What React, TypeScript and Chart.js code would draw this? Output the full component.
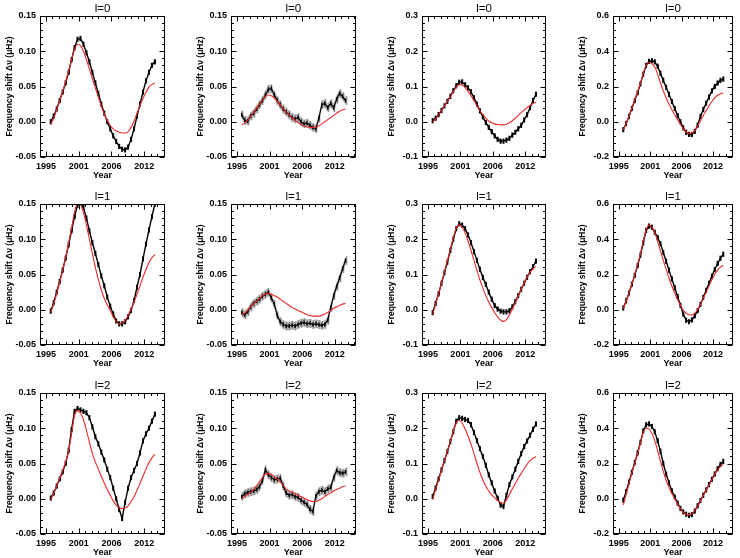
import React, { useEffect, useRef } from 'react';
import { Chart, registerables } from 'chart.js';

Chart.register(...registerables);

const FONT = "'Liberation Sans', Arial, Helvetica, sans-serif";
const RED = '#ee2a2a';

// observation epochs (years)
const years = [
  1996.3, 1996.8, 1997.3, 1997.8, 1998.3, 1998.8, 1999.3, 1999.8, 2000.3, 2000.8,
  2001.3, 2001.8, 2002.3, 2002.8, 2003.3, 2003.8, 2004.3, 2004.8, 2005.3, 2005.8,
  2006.3, 2006.8, 2007.3, 2007.8, 2008.3, 2008.8, 2009.3, 2009.8, 2010.3, 2010.8,
  2011.3, 2011.8, 2012.3, 2012.8, 2013.3, 2013.8,
];

const xTickYears = [1995.5, 2001, 2006.5, 2012];
const xTickLabels = ['1995', '2001', '2006', '2012'];
const degreeLabels = ['l=0', 'l=1', 'l=2'];

// y-axis range per column
const yMins = [-0.05, -0.05, -0.1, -0.2];
const yMaxs = [0.15, 0.15, 0.3, 0.6];
const ySteps = [0.05, 0.05, 0.1, 0.2];
const yDecimals = [2, 2, 1, 1];
const errorHalf = [0.002, 0.006, 0.004, 0.008];

// ---- l = 0 ----
const obsL0a = [0.000, 0.008, 0.018, 0.030, 0.042, 0.055, 0.070, 0.088, 0.105, 0.117, 0.118, 0.110, 0.098, 0.085, 0.070, 0.055, 0.040, 0.025, 0.012, 0.000, -0.010, -0.020, -0.028, -0.035, -0.039, -0.040, -0.036, -0.025, -0.010, 0.008, 0.025, 0.042, 0.058, 0.070, 0.080, 0.085];
const modL0a = [-0.004, 0.005, 0.017, 0.030, 0.043, 0.057, 0.072, 0.088, 0.102, 0.110, 0.108, 0.100, 0.088, 0.075, 0.061, 0.048, 0.035, 0.022, 0.011, 0.002, -0.005, -0.010, -0.013, -0.015, -0.016, -0.016, -0.014, -0.008, 0.001, 0.012, 0.023, 0.033, 0.042, 0.049, 0.053, 0.055];
const obsL0b = [0.010, 0.002, 0.001, 0.008, 0.012, 0.018, 0.024, 0.030, 0.038, 0.046, 0.047, 0.038, 0.030, 0.024, 0.018, 0.014, 0.010, 0.006, 0.004, 0.006, 0.000, -0.003, -0.002, -0.005, -0.008, -0.010, 0.005, 0.024, 0.026, 0.020, 0.026, 0.020, 0.032, 0.040, 0.036, 0.030];
const modL0b = [-0.004, -0.002, 0.002, 0.008, 0.013, 0.019, 0.025, 0.031, 0.036, 0.038, 0.037, 0.034, 0.029, 0.024, 0.019, 0.014, 0.010, 0.006, 0.002, -0.001, -0.004, -0.006, -0.007, -0.008, -0.008, -0.008, -0.006, -0.003, 0.000, 0.003, 0.006, 0.009, 0.012, 0.015, 0.017, 0.018];
const obsL0c = [0.003, 0.010, 0.020, 0.032, 0.045, 0.058, 0.072, 0.088, 0.102, 0.112, 0.113, 0.105, 0.096, 0.085, 0.068, 0.050, 0.031, 0.014, -0.002, -0.016, -0.028, -0.040, -0.050, -0.055, -0.055, -0.052, -0.047, -0.038, -0.030, -0.020, -0.010, 0.005, 0.020, 0.040, 0.060, 0.078];
const modL0c = [-0.001, 0.008, 0.019, 0.032, 0.045, 0.058, 0.071, 0.085, 0.098, 0.105, 0.104, 0.097, 0.086, 0.074, 0.060, 0.046, 0.032, 0.020, 0.010, 0.002, -0.003, -0.006, -0.008, -0.009, -0.009, -0.007, -0.003, 0.003, 0.010, 0.018, 0.026, 0.033, 0.040, 0.046, 0.052, 0.056];
const obsL0d = [-0.045, -0.010, 0.030, 0.075, 0.120, 0.165, 0.215, 0.270, 0.320, 0.342, 0.346, 0.340, 0.315, 0.275, 0.235, 0.195, 0.155, 0.115, 0.075, 0.035, 0.000, -0.035, -0.060, -0.072, -0.072, -0.055, -0.020, 0.030, 0.070, 0.105, 0.140, 0.175, 0.200, 0.220, 0.235, 0.242];
const modL0d = [-0.045, -0.010, 0.032, 0.078, 0.124, 0.170, 0.220, 0.275, 0.320, 0.335, 0.330, 0.310, 0.270, 0.220, 0.175, 0.135, 0.100, 0.068, 0.040, 0.012, -0.015, -0.040, -0.058, -0.066, -0.064, -0.050, -0.025, 0.005, 0.035, 0.062, 0.090, 0.115, 0.135, 0.150, 0.158, 0.163];

// ---- l = 1 ----
const obsL1a = [-0.002, 0.010, 0.025, 0.040, 0.056, 0.073, 0.092, 0.112, 0.132, 0.148, 0.152, 0.145, 0.130, 0.112, 0.095, 0.080, 0.064, 0.048, 0.034, 0.018, 0.005, -0.006, -0.016, -0.020, -0.020, -0.017, -0.010, -0.001, 0.013, 0.032, 0.050, 0.072, 0.093, 0.113, 0.132, 0.150];
const modL1a = [-0.004, 0.008, 0.023, 0.039, 0.056, 0.074, 0.094, 0.116, 0.138, 0.151, 0.149, 0.138, 0.120, 0.100, 0.080, 0.060, 0.043, 0.028, 0.016, 0.007, -0.001, -0.010, -0.017, -0.020, -0.019, -0.015, -0.008, 0.001, 0.011, 0.022, 0.034, 0.046, 0.057, 0.067, 0.074, 0.078];
const obsL1b = [-0.004, -0.007, -0.003, 0.004, 0.009, 0.012, 0.015, 0.019, 0.022, 0.025, 0.017, 0.008, -0.008, -0.017, -0.021, -0.023, -0.023, -0.022, -0.023, -0.021, -0.019, -0.018, -0.020, -0.019, -0.021, -0.020, -0.021, -0.022, -0.021, -0.015, 0.003, 0.020, 0.033, 0.045, 0.058, 0.070];
const modL1b = [-0.006, -0.005, -0.001, 0.004, 0.008, 0.012, 0.016, 0.020, 0.022, 0.023, 0.022, 0.020, 0.018, 0.015, 0.012, 0.009, 0.006, 0.003, 0.001, -0.001, -0.003, -0.005, -0.007, -0.008, -0.009, -0.009, -0.009, -0.008, -0.006, -0.004, -0.001, 0.002, 0.004, 0.006, 0.008, 0.009];
const obsL1c = [-0.008, 0.018, 0.045, 0.075, 0.105, 0.135, 0.168, 0.200, 0.230, 0.244, 0.240, 0.230, 0.212, 0.190, 0.165, 0.140, 0.115, 0.092, 0.072, 0.050, 0.030, 0.012, 0.002, -0.004, -0.006, -0.006, -0.003, 0.008, 0.023, 0.040, 0.058, 0.075, 0.092, 0.108, 0.122, 0.138];
const modL1c = [-0.012, 0.015, 0.045, 0.076, 0.108, 0.140, 0.172, 0.205, 0.232, 0.240, 0.234, 0.218, 0.195, 0.168, 0.140, 0.112, 0.085, 0.062, 0.040, 0.022, 0.006, -0.008, -0.020, -0.029, -0.033, -0.028, -0.015, 0.002, 0.020, 0.040, 0.058, 0.076, 0.092, 0.106, 0.116, 0.123];
const obsL1d = [0.010, 0.050, 0.095, 0.145, 0.195, 0.250, 0.310, 0.380, 0.450, 0.475, 0.468, 0.440, 0.410, 0.375, 0.325, 0.275, 0.225, 0.175, 0.125, 0.075, 0.025, -0.025, -0.060, -0.068, -0.058, -0.035, -0.005, 0.030, 0.070, 0.110, 0.150, 0.190, 0.228, 0.262, 0.292, 0.315];
const modL1d = [0.008, 0.048, 0.095, 0.145, 0.198, 0.255, 0.318, 0.390, 0.455, 0.480, 0.470, 0.440, 0.390, 0.335, 0.280, 0.230, 0.180, 0.135, 0.095, 0.058, 0.025, -0.003, -0.020, -0.028, -0.030, -0.020, 0.000, 0.030, 0.065, 0.100, 0.135, 0.170, 0.200, 0.225, 0.242, 0.253];

// ---- l = 2 ----
const obsL2a = [0.001, 0.008, 0.018, 0.028, 0.038, 0.050, 0.068, 0.098, 0.124, 0.128, 0.126, 0.124, 0.122, 0.115, 0.102, 0.088, 0.078, 0.066, 0.055, 0.042, 0.030, 0.015, 0.000, -0.015, -0.028, -0.005, 0.015, 0.030, 0.040, 0.050, 0.065, 0.082, 0.092, 0.100, 0.110, 0.120];
const modL2a = [-0.002, 0.008, 0.018, 0.029, 0.040, 0.052, 0.068, 0.092, 0.118, 0.125, 0.122, 0.112, 0.097, 0.080, 0.064, 0.052, 0.042, 0.032, 0.022, 0.013, 0.005, -0.003, -0.009, -0.013, -0.014, -0.013, -0.010, -0.004, 0.003, 0.012, 0.022, 0.032, 0.042, 0.051, 0.058, 0.063];
const obsL2b = [0.003, 0.007, 0.009, 0.010, 0.011, 0.013, 0.017, 0.026, 0.041, 0.034, 0.030, 0.027, 0.028, 0.029, 0.018, 0.008, 0.005, 0.006, 0.003, 0.002, -0.002, -0.005, -0.008, -0.015, -0.018, 0.004, 0.010, 0.012, 0.010, 0.014, 0.016, 0.030, 0.040, 0.037, 0.036, 0.038];
const modL2b = [0.000, 0.003, 0.006, 0.009, 0.013, 0.018, 0.024, 0.030, 0.035, 0.036, 0.034, 0.031, 0.028, 0.024, 0.019, 0.014, 0.011, 0.009, 0.007, 0.005, 0.003, 0.001, -0.001, -0.003, -0.004, -0.004, -0.002, 0.000, 0.003, 0.006, 0.008, 0.011, 0.013, 0.015, 0.017, 0.018];
const obsL2c = [0.006, 0.030, 0.056, 0.082, 0.108, 0.134, 0.162, 0.190, 0.220, 0.230, 0.228, 0.225, 0.222, 0.210, 0.188, 0.165, 0.142, 0.120, 0.095, 0.068, 0.045, 0.022, 0.002, -0.018, -0.022, 0.010, 0.040, 0.062, 0.084, 0.106, 0.128, 0.148, 0.164, 0.180, 0.197, 0.212];
const modL2c = [-0.002, 0.025, 0.052, 0.080, 0.108, 0.135, 0.163, 0.192, 0.215, 0.222, 0.215, 0.198, 0.178, 0.155, 0.128, 0.100, 0.075, 0.054, 0.036, 0.022, 0.011, 0.003, -0.005, -0.011, -0.012, -0.004, 0.012, 0.028, 0.043, 0.058, 0.072, 0.085, 0.098, 0.108, 0.115, 0.119];
const obsL2d = [-0.008, 0.040, 0.095, 0.150, 0.205, 0.260, 0.320, 0.385, 0.420, 0.425, 0.410, 0.380, 0.330, 0.270, 0.200, 0.140, 0.090, 0.045, 0.010, -0.025, -0.055, -0.075, -0.088, -0.094, -0.090, -0.070, -0.040, -0.010, 0.020, 0.050, 0.080, 0.110, 0.140, 0.170, 0.195, 0.212];
const modL2d = [-0.035, 0.025, 0.085, 0.145, 0.200, 0.255, 0.315, 0.375, 0.400, 0.395, 0.370, 0.330, 0.275, 0.215, 0.155, 0.105, 0.065, 0.030, 0.000, -0.030, -0.058, -0.078, -0.088, -0.090, -0.085, -0.068, -0.042, -0.012, 0.018, 0.048, 0.078, 0.108, 0.138, 0.162, 0.182, 0.195];

const observedRows = [
  [obsL0a, obsL0b, obsL0c, obsL0d],
  [obsL1a, obsL1b, obsL1c, obsL1d],
  [obsL2a, obsL2b, obsL2c, obsL2d],
];
const modelRows = [
  [modL0a, modL0b, modL0c, modL0d],
  [modL1a, modL1b, modL1c, modL1d],
  [modL2a, modL2b, modL2c, modL2d],
];

// panel geometry (plot area in page pixels)
const plotLefts = [40, 231, 422, 613];
const plotWidths = [126, 125, 125, 121];
const plotTops = [16, 204, 393];
const plotHeight = 141;
const AXIS_W = 40;
const AXIS_H = 24;
const PAD_TOP = 16;
const PAD_RIGHT = 5;

// uncertainty band and vertical error bars under the observed series
const errorBars = {
  id: 'errorBars',
  beforeDatasetsDraw(chart: any, _a: any, opts: any) {
    const { ctx, chartArea: a, scales } = chart;
    const meta = chart.getDatasetMeta(1);
    const data = chart.data.datasets[1].data as any[];
    const ys = scales.y;
    ctx.save();
    ctx.beginPath();
    ctx.rect(a.left, a.top, a.right - a.left, a.bottom - a.top);
    ctx.clip();
    if (opts.band) {
      ctx.beginPath();
      meta.data.forEach((pt: any, i: number) => {
        const py = ys.getPixelForValue(data[i].y + opts.size);
        if (i === 0) ctx.moveTo(pt.x, py);
        else ctx.lineTo(pt.x, py);
      });
      for (let i = meta.data.length - 1; i >= 0; i--) {
        ctx.lineTo(meta.data[i].x, ys.getPixelForValue(data[i].y - opts.size));
      }
      ctx.closePath();
      ctx.fillStyle = opts.band;
      ctx.fill();
    }
    ctx.strokeStyle = opts.color;
    ctx.lineWidth = opts.width;
    meta.data.forEach((pt: any, i: number) => {
      const v = data[i].y;
      const x = Math.round(pt.x) + 0.5;
      ctx.beginPath();
      ctx.moveTo(x, ys.getPixelForValue(v + opts.size));
      ctx.lineTo(x, ys.getPixelForValue(v - opts.size));
      ctx.stroke();
    });
    ctx.restore();
  },
};

// boxed frame with inward major/minor ticks on all four sides, plus the panel title
const panelFrame = {
  id: 'panelFrame',
  afterDraw(chart: any, _a: any, opts: any) {
    const { ctx, chartArea: a, scales } = chart;
    const xs = scales.x;
    const ys = scales.y;
    ctx.save();
    ctx.strokeStyle = '#000';
    ctx.lineWidth = 1;
    const l = Math.round(a.left) + 0.5;
    const r = Math.round(a.right) - 0.5;
    const t = Math.round(a.top) + 0.5;
    const b = Math.round(a.bottom) - 0.5;
    ctx.strokeRect(l, t, r - l, b - t);
    ctx.beginPath();
    const xStep = (xTickYears[1] - xTickYears[0]) / 5;
    for (let k = -10; k <= 40; k++) {
      const v = xTickYears[0] + k * xStep;
      if (v < xs.min || v > xs.max) continue;
      const len = k % 5 === 0 ? 5 : 2.5;
      const px = Math.round(xs.getPixelForValue(v)) + 0.5;
      ctx.moveTo(px, b); ctx.lineTo(px, b - len);
      ctx.moveTo(px, t); ctx.lineTo(px, t + len);
    }
    const yStep = opts.yStep / 5;
    const n = Math.round((ys.max - ys.min) / yStep);
    for (let k = 0; k <= n; k++) {
      const v = ys.min + k * yStep;
      const len = k % 5 === 0 ? 5 : 2.5;
      const py = Math.round(ys.getPixelForValue(v)) + 0.5;
      ctx.moveTo(l, py); ctx.lineTo(l + len, py);
      ctx.moveTo(r, py); ctx.lineTo(r - len, py);
    }
    ctx.stroke();
    ctx.fillStyle = '#000';
    ctx.font = `11.5px ${FONT}`;
    ctx.textAlign = 'center';
    ctx.textBaseline = 'alphabetic';
    ctx.fillText(opts.title, (a.left + a.right) / 2, a.top - 4.5);
    ctx.restore();
  },
};

function Panel({ row, col }: { row: number; col: number }) {
  const ref = useRef<HTMLCanvasElement>(null);
  const width = AXIS_W + plotWidths[col] + PAD_RIGHT;
  const height = PAD_TOP + plotHeight + AXIS_H;

  useEffect(() => {
    const obs = observedRows[row][col];
    const mod = modelRows[row][col];
    const noisy = col === 1;
    const tickFont = { family: FONT, size: 9, weight: 'bold' as const };
    const chart = new Chart(ref.current as HTMLCanvasElement, {
      type: 'line',
      data: {
        datasets: [
          {
            label: 'model',
            data: years.map((x, i) => ({ x, y: mod[i] })),
            borderColor: RED,
            borderWidth: 1.1,
            pointRadius: 0,
            cubicInterpolationMode: 'monotone',
          },
          {
            label: 'observed',
            data: years.map((x, i) => ({ x, y: obs[i] })),
            borderColor: '#000',
            borderWidth: noisy ? 1.2 : 1.4,
            pointStyle: 'line',
            rotation: 90,
            pointRadius: noisy ? 2 : 2.6,
            pointBorderWidth: noisy ? 1.4 : 2,
            pointBorderColor: '#000',
            pointBackgroundColor: '#000',
          },
        ],
      },
      plugins: [errorBars, panelFrame],
      options: {
        responsive: false,
        animation: false,
        devicePixelRatio: 1,
        events: [],
        layout: { padding: { top: PAD_TOP, right: PAD_RIGHT, left: 0, bottom: 0 } },
        plugins: {
          legend: { display: false },
          tooltip: { enabled: false },
          title: { display: false },
          errorBars: {
            size: errorHalf[col],
            color: noisy ? '#8a8a8a' : '#444',
            width: noisy ? 1.5 : 1,
            band: noisy ? 'rgba(150,150,150,0.55)' : null,
          },
          panelFrame: { title: degreeLabels[row], yStep: ySteps[col] },
        } as any,
        scales: {
          x: {
            type: 'linear',
            min: 1994.5,
            max: 2015.5,
            grid: { display: false, drawTicks: false },
            border: { display: false },
            afterBuildTicks: (s: any) => {
              s.ticks = xTickYears.map((v) => ({ value: v }));
            },
            afterFit: (s: any) => {
              s.height = AXIS_H;
              s.paddingLeft = 0;
              s.paddingRight = 0;
            },
            ticks: {
              autoSkip: false,
              maxRotation: 0,
              minRotation: 0,
              padding: 4,
              color: '#000',
              font: tickFont,
              callback: (_v: any, i: number) => xTickLabels[i],
            },
            title: {
              display: true,
              text: 'Year',
              color: '#000',
              font: { family: FONT, size: 9, weight: 'bold' },
              padding: 0,
            },
          },
          y: {
            min: yMins[col],
            max: yMaxs[col],
            grid: { display: false, drawTicks: false },
            border: { display: false },
            afterFit: (s: any) => {
              s.width = AXIS_W;
              s.paddingTop = 0;
              s.paddingBottom = 0;
            },
            ticks: {
              stepSize: ySteps[col],
              padding: 4,
              color: '#000',
              font: tickFont,
              callback: (v: any) => Number(v).toFixed(yDecimals[col]),
            },
            title: {
              display: true,
              text: 'Frequency shift Δν (μHz)',
              color: '#000',
              font: { family: FONT, size: 8.5, weight: 'bold' },
              padding: { top: 5, bottom: 0 },
            },
          },
        },
      } as any,
    });
    return () => chart.destroy();
  }, [row, col]);

  return (
    <canvas
      ref={ref}
      width={width}
      height={height}
      style={{
        position: 'absolute',
        left: plotLefts[col] - AXIS_W,
        top: plotTops[row] - PAD_TOP,
        width,
        height,
      }}
    />
  );
}

export default function App() {
  const cells: React.ReactNode[] = [];
  for (let r = 0; r < 3; r++) {
    for (let c = 0; c < 4; c++) {
      cells.push(<Panel key={`${r}-${c}`} row={r} col={c} />);
    }
  }
  return (
    <div
      style={{
        position: 'absolute',
        left: 0,
        top: 0,
        width: 740,
        height: 558,
        background: '#fff',
        overflow: 'hidden',
      }}
    >
      {cells}
    </div>
  );
}
